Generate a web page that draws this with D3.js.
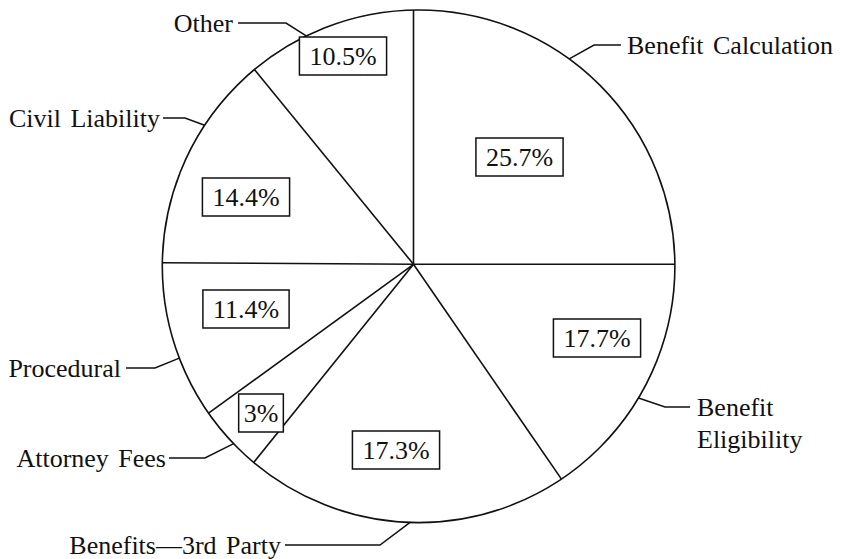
<!DOCTYPE html>
<html><head><meta charset="utf-8">
<script src="https://cdn.jsdelivr.net/npm/d3@7"></script>
<style>
html,body{margin:0;padding:0;background:#fff;}
svg{display:block;}
</style></head>
<body>
<svg id="chart" width="841" height="559" font-family="'Liberation Serif', 'DejaVu Serif', serif"></svg>
<script>
// ---- data ----
const categories = ["Benefit Calculation","Benefit Eligibility","Benefits\u20143rd Party","Attorney Fees","Procedural","Civil Liability","Other"];
const shareLabels = [25.7, 17.7, 17.3, 3, 11.4, 14.4, 10.5];      // printed percentages
const sliceShares = [25.0, 15.4, 20.4, 4.2, 10.1, 14.0, 10.9];    // slice sizes as drawn
// ---- layout ----
const hub = {x: 413.5, y: 264.3};
const circ = {x: 418.6, y: 266.3, r: 256.3};
const fontSize = 26;
const fontFamily = "'Liberation Serif', 'DejaVu Serif', serif";
// leader: attach angle (deg, clockwise from top, around circle centre), elbow, line end, text side
const leaders = [
  {ang: 36,    elbow: [594, 45],  end: [621, 45],  side: "start", tx: 627},
  {ang: 120.9, elbow: [665, 407], end: [690, 407], side: "start", tx: 697, lines: ["Benefit","Eligibility"]},
  {ang: 181.9, elbow: [380, 545], end: [285, 545], side: "end",   tx: 281},
  {ang: 226.2, elbow: [205, 458], end: [169, 458], side: "end",   tx: 166},
  {ang: 249,   elbow: [155, 368], end: [126, 368], side: "end",   tx: 121},
  {ang: 303.4, elbow: [185, 118], end: [163, 118], side: "end",   tx: 160},
  {ang: 334,   elbow: [286, 23],  end: [238, 23],  side: "end",   tx: 233}
];
// percentage box centres
const boxCentres = [[519.5,157],[597,338],[396,450],[261,413],[246,309],[246,197],[343,56]];

const svg = d3.select("#chart");
const pie = d3.pie().sort(null).value(d => d)(sliceShares);

function rayToCircle(a){
  const dx = Math.sin(a), dy = -Math.cos(a);
  const wx = hub.x - circ.x, wy = hub.y - circ.y;
  const b = wx*dx + wy*dy;
  const c = wx*wx + wy*wy - circ.r*circ.r;
  const t = -b + Math.sqrt(b*b - c);
  return [hub.x + t*dx, hub.y + t*dy];
}

// outline
svg.append("circle").attr("cx", circ.x).attr("cy", circ.y).attr("r", circ.r)
  .attr("fill", "none").attr("stroke", "#111").attr("stroke-width", 1.6);
// spokes
svg.selectAll("line.spoke").data(pie).join("line").attr("class","spoke")
  .attr("x1", hub.x).attr("y1", hub.y)
  .attr("x2", d => rayToCircle(d.startAngle)[0])
  .attr("y2", d => rayToCircle(d.startAngle)[1])
  .attr("stroke", "#111").attr("stroke-width", 1.6);

// leaders + category labels
const rad = Math.PI/180;
leaders.forEach((L, i) => {
  const a = L.ang*rad;
  const px = circ.x + circ.r*Math.sin(a), py = circ.y - circ.r*Math.cos(a);
  svg.append("polyline")
    .attr("points", [[px,py], L.elbow, L.end].map(p => p.join(",")).join(" "))
    .attr("fill","none").attr("stroke","#111").attr("stroke-width",1.5);
  const lines = L.lines || [categories[i]];
  const t = svg.append("text").attr("text-anchor", L.side)
    .attr("font-family", fontFamily).attr("fill", "#111")
    .attr("font-size", fontSize).style("word-spacing","3px");
  lines.forEach((s, k) => {
    t.append("tspan").attr("x", L.tx).attr("y", L.end[1] + 9 + k*32).text(s);
  });
});

// percentage boxes
shareLabels.forEach((v, i) => {
  const [cx, cy] = boxCentres[i];
  const g = svg.append("g");
  const t = g.append("text").attr("x", cx).attr("y", cy + 9)
    .attr("text-anchor","middle").attr("font-family", fontFamily).attr("fill", "#111")
    .attr("font-size", fontSize).text(v + "%");
  const bb = t.node().getBBox();
  const padX = bb.width < 40 ? 5 : 10;
  g.insert("rect","text")
    .attr("x", cx - bb.width/2 - padX).attr("y", cy - 19)
    .attr("width", bb.width + 2*padX).attr("height", 38)
    .attr("fill","#fff").attr("stroke","#111").attr("stroke-width",1.5);
});
</script>
</body></html>
